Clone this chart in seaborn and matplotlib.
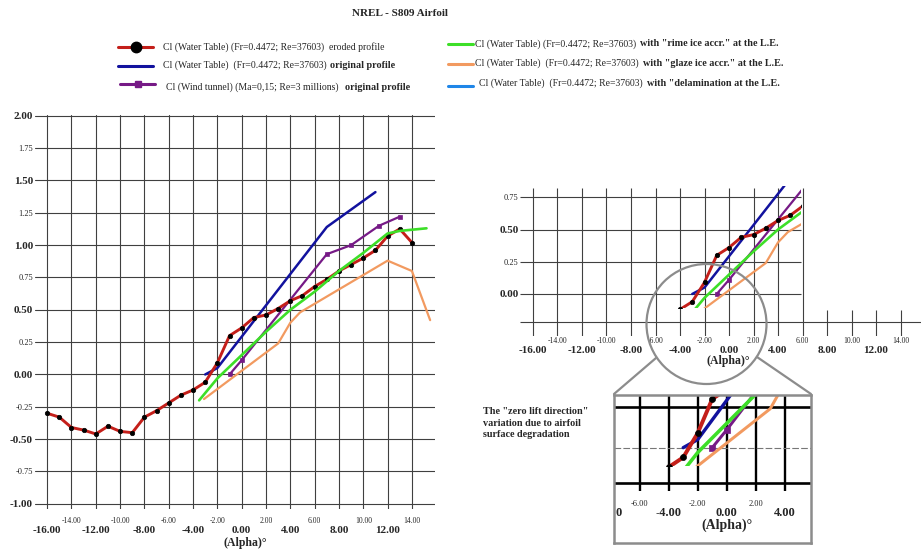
import numpy as np
import pandas as pd
import seaborn as sns
import matplotlib.pyplot as plt
import matplotlib.patches as mpatches
import matplotlib.lines as mlines

W, H = 921, 549

# Cl vs alpha
alpha_eroded = [-16, -15, -14, -13, -12, -11, -10, -9, -8, -7, -6, -5, -4, -3, -2, -1,
                0, 1, 2, 3, 4, 5, 6, 7, 8, 9, 10, 11, 12, 13, 14]
cl_eroded = [-0.30, -0.33, -0.41, -0.43, -0.46, -0.40, -0.44, -0.45, -0.33, -0.28, -0.22,
             -0.16, -0.12, -0.06, 0.09, 0.30, 0.36, 0.44, 0.46, 0.51, 0.57, 0.61, 0.68,
             0.735, 0.80, 0.85, 0.90, 0.96, 1.07, 1.125, 1.02]

alpha_orig = [-3, -2, 7, 11]
cl_orig = [0.0, 0.05, 1.14, 1.41]

alpha_wind = [-1, 0, 7, 9, 11.3, 13]
cl_wind = [0.0, 0.11, 0.93, 1.0, 1.15, 1.22]

alpha_rime = [-3.5, -2, 0, 2, 4, 6, 8, 10, 12, 13, 15.2]
cl_rime = [-0.20, -0.03, 0.15, 0.33, 0.50, 0.64, 0.80, 0.94, 1.09, 1.11, 1.13]

alpha_glaze = [-3.1, 3, 4, 4.8, 12, 14, 15.5]
cl_glaze = [-0.19, 0.24, 0.40, 0.48, 0.88, 0.80, 0.42]

x_major = [-16, -12, -8, -4, 0, 4, 8, 12]
x_minor = [-14, -10, -6, -2, 2, 6, 10, 14]
y_major = [-1.0, -0.5, 0.0, 0.5, 1.0, 1.5, 2.0]
y_minor = [-0.75, -0.25, 0.25, 0.75, 1.25, 1.75]

legend_base = "Cl (Water Table) (Fr=0.4472; Re=37603)"
legend_base2 = "Cl (Water Table)  (Fr=0.4472; Re=37603)"

RED, BLUE, PURPLE = "#c41f1a", "#12129e", "#761a86"
GREEN, ORANGE, LBLUE = "#3ddf28", "#f29a60", "#1f86e8"
GRAY = "#8c8c8c"
GRID = "#404040"

# name, alpha, cl, colour, linewidth, marker
series = [
    ("orig", alpha_orig, cl_orig, BLUE, 1.8, None),
    ("wind", alpha_wind, cl_wind, PURPLE, 1.6, "s"),
    ("eroded", alpha_eroded, cl_eroded, RED, 2.1, "o"),
    ("rime", alpha_rime, cl_rime, GREEN, 1.9, None),
    ("glaze", alpha_glaze, cl_glaze, ORANGE, 1.6, None),
]

sns.set_style("white")
plt.rcParams['font.family'] = ['Liberation Serif', 'DejaVu Serif']


def fx(px):
    return px / W


def fy(py):
    return 1 - py / H


def axes_px(fig, left, top, right, bottom):
    ax = fig.add_axes([fx(left), fy(bottom), (right - left) / W, (bottom - top) / H])
    for s in ax.spines.values():
        s.set_visible(False)
    return ax


'''
draw every Cl curve on ax; scale thickens lines, clip is an optional
rectangle (data coords) to cut the curves like in the zoomed pictures
'''
def draw_series(ax, scale=1.0, clip=None):
    for name, a, c, col, lw, mk in series:
        df = pd.DataFrame({"alpha": a, "cl": c})
        kw = {}
        if mk == "o":
            kw = dict(marker="o", markersize=3.2 * scale, markerfacecolor="black",
                      markeredgecolor="black", markeredgewidth=0.5)
        elif mk == "s":
            kw = dict(marker="s", markersize=2.8 * scale, markerfacecolor=col,
                      markeredgecolor=col, markeredgewidth=0.5)
        sns.lineplot(data=df, x="alpha", y="cl", color=col, linewidth=lw * scale,
                     sort=False, estimator=None, ax=ax, **kw)
    if clip is not None:
        for ln in ax.lines:
            ln.set_clip_path(clip)
    ax.set_xlabel("")
    ax.set_ylabel("")


fig = plt.figure(figsize=(W / 100, H / 100), dpi=100)

# ---- main chart
ax = axes_px(fig, 35, 115, 435, 509)
draw_series(ax)
ax.set_xlim(-17, 15.9)
ax.set_ylim(-1.04, 2.006)
ax.tick_params(axis="x", which="major", pad=12, length=0)
ax.tick_params(axis="x", which="minor", pad=6, length=0)
ax.tick_params(axis="y", which="both", pad=1.5, length=0)
ax.set_xticks(x_major, [f"{v:.2f}" for v in x_major], fontweight="bold", fontsize=8)
ax.set_xticks(x_minor, [f"{v:.2f}" for v in x_minor], minor=True, fontsize=5.5)
ax.set_yticks(y_major, [f"{v:.2f}" for v in y_major], fontweight="bold", fontsize=8)
ax.set_yticks(y_minor, [f"{v:.2f}" for v in y_minor], minor=True, fontsize=6)
ax.grid(True, which="both", color=GRID, linewidth=0.8)
ax.set_axisbelow(True)
fig.text(fx(245), fy(543), "(Alpha)°", ha="center", va="center", fontsize=8.5, fontweight="bold")

# ---- right zoom of the zero-lift region
ins = axes_px(fig, 520, 188, 921, 336)
ins.set_xlim(-17.06, 15.67)
ins.set_ylim(-0.326, 0.822)
ins.vlines(np.arange(-16, 7, 2), -0.326, 0.822, color=GRID, linewidth=0.8)
ins.vlines([8, 10, 12, 14], -0.326, -0.124, color=GRID, linewidth=0.8)
ins.hlines([0.75, 0.5, 0.25, 0.0], -17.06, 5.9, color=GRID, linewidth=0.8)
ins.hlines(-0.22, -17.06, 15.67, color=GRID, linewidth=0.8)
clip_ins = mpatches.Rectangle((-17.06, -0.11), 17.06 + 5.9, 0.95, transform=ins.transData)
draw_series(ins, 1.0, clip_ins)
ins.set_xlim(-17.06, 15.67)
ins.set_ylim(-0.326, 0.822)
ins.tick_params(axis="x", which="major", pad=7, length=0)
ins.tick_params(axis="x", which="minor", pad=1, length=0)
ins.tick_params(axis="y", which="both", pad=1, length=0)
ins.set_xticks(x_major, [f"{v:.2f}" for v in x_major], fontweight="bold", fontsize=8)
ins.set_xticks(x_minor, [f"{v:.2f}" for v in x_minor], minor=True, fontsize=5.5)
ins.set_yticks([0.0, 0.5], ["0.00", "0.50"], fontweight="bold", fontsize=8)
ins.set_yticks([0.25, 0.75], ["0.25", "0.75"], minor=True, fontsize=6)
fig.text(fx(728), fy(361), "(Alpha)°", ha="center", va="center", fontsize=8.5, fontweight="bold")

# ---- magnified box
box = axes_px(fig, 614, 395, 811, 543)
bx0, bx1 = -7.77, 5.81
by0, by1 = -0.588, 0.325
box.vlines([-6, -4, -2, 0, 2, 4], -0.27, by1, color="black", linewidth=1.7)
box.hlines([0.25, -0.22], bx0, bx1, color="black", linewidth=1.9)
box.hlines(0.0, bx0, bx1, color="#777777", linewidth=0.8, linestyles=(0, (6, 2)))
clip_box = mpatches.Rectangle((bx0, -0.11), bx1 - bx0, by1 + 0.11, transform=box.transData)
draw_series(box, 1.35, clip_box)
box.set_xlim(bx0, bx1)
box.set_ylim(by0, by1)
box.set_xticks([])
box.set_yticks([])
for s in box.spines.values():
    s.set_visible(True)
    s.set_color(GRAY)
    s.set_linewidth(1.8)
for v in [-6, -2, 2]:
    box.text(v, -0.348, f"{v:.2f}", ha="center", va="center", fontsize=6)
for v in [-4, 0, 4]:
    box.text(v, -0.405, f"{v:.2f}", ha="center", va="center", fontsize=9, fontweight="bold")
box.text(-7.65, -0.405, "0", ha="left", va="center", fontsize=9, fontweight="bold")
box.text(0, -0.48, "(Alpha)°", ha="center", va="center", fontsize=10, fontweight="bold")

# circle and connector lines
fig.add_artist(mpatches.Ellipse((fx(706.5), fy(324)), 120 / W, 120 / H, transform=fig.transFigure,
                                fill=False, edgecolor=GRAY, linewidth=1.6))
fig.add_artist(mlines.Line2D([fx(614), fx(656)], [fy(394), fy(358)], transform=fig.transFigure,
                             color=GRAY, linewidth=1.6))
fig.add_artist(mlines.Line2D([fx(811), fx(757)], [fy(394), fy(357)], transform=fig.transFigure,
                             color=GRAY, linewidth=1.6))

fig.text(fx(483), fy(423), 'The "zero lift direction"\nvariation due to airfoil\nsurface degradation',
         ha="left", va="center", fontsize=7.3, fontweight="bold", linespacing=1.35)

# ---- title and hand made legend
fig.text(fx(400), fy(14), "NREL - S809 Airfoil", ha="center", va="center", fontsize=8, fontweight="bold")

legend_rows = [
    # line x0, x1, line y, colour, marker, text x, plain text, second x, second text, weight, text y
    (118, 153, 47, RED, "o", 163, legend_base, 329, "eroded profile", "normal", 47),
    (118, 153, 66, BLUE, None, 163, legend_base2, 330, "original profile", "bold", 65),
    (120, 155, 84, PURPLE, "s", 166, "Cl (Wind tunnel) (Ma=0,15; Re=3 millions)", 345, "original profile", "bold", 87),
    (448, 473, 44, GREEN, None, 475, legend_base, 640, 'with "rime ice accr." at the L.E.', "bold", 44),
    (448, 473, 64, ORANGE, None, 475, legend_base2, 643, 'with "glaze ice accr." at the L.E.', "bold", 63),
    (448, 473, 86, LBLUE, None, 479, legend_base2, 647, 'with "delamination at the L.E.', "bold", 83),
]
for x0, x1, ly, col, mk, tx, txt, bx, btxt, wt, ty in legend_rows:
    fig.add_artist(mlines.Line2D([fx(x0), fx(x1)], [fy(ly), fy(ly)], transform=fig.transFigure,
                                 color=col, linewidth=2.2))
    if mk == "o":
        fig.add_artist(mlines.Line2D([fx((x0 + x1) / 2)], [fy(ly)], transform=fig.transFigure,
                                     marker="o", markersize=7.5, color="black", linestyle="none"))
    elif mk == "s":
        fig.add_artist(mlines.Line2D([fx((x0 + x1) / 2)], [fy(ly)], transform=fig.transFigure,
                                     marker="s", markersize=4.5, color=col, linestyle="none"))
    fig.text(fx(tx), fy(ty), txt, ha="left", va="center", fontsize=7)
    fig.text(fx(bx), fy(ty), btxt, ha="left", va="center", fontsize=7.3 if wt == "bold" else 7,
             fontweight=wt)

fig.savefig("out.png", dpi=100)
